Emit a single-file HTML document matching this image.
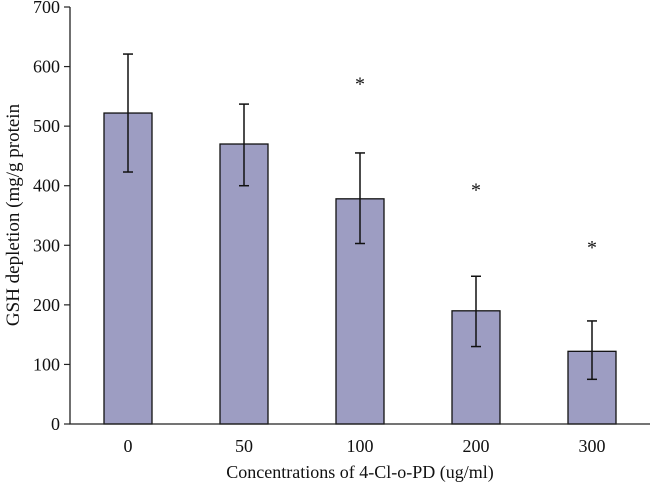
<!DOCTYPE html>
<html><head><meta charset="utf-8"><style>body{margin:0;background:#fff}svg text{font-family:"Liberation Serif",serif;fill:#111}</style></head>
<body>
<svg id="c" width="650" height="487"></svg>
<script>
const categories=["0","50","100","200","300"];
const values=[522,470,378,190,122];
const errLow=[423,400,303,130,75];
const errHigh=[621,537,455,248,173];
const stars=[null,null,577,399,302];
const yTicks=[0,100,200,300,400,500,600,700];
const svg=document.getElementById('c');const NS='http://www.w3.org/2000/svg';
const y=v=>424-v*(417/700);const x=i=>128+i*116;
function mk(t,a,p){const e=document.createElementNS(NS,t);for(const k in a)e.setAttribute(k,a[k]);(p||svg).appendChild(e);return e;}
yTicks.forEach(t=>{const l=mk('line',{x1:64,x2:70,y1:y(t),y2:y(t),stroke:'#222','stroke-width':1.2});

const tx=mk('text',{x:60,y:y(t)+6,'text-anchor':'end','font-size':18});tx.textContent=t;
});
categories.forEach((c,i)=>{
const r=mk('rect',{x:x(i)-24,y:y(values[i]),width:48,height:y(0)-y(values[i]),fill:'#9d9dc2',stroke:'#111','stroke-width':1.3});

const g=mk('g',{stroke:'#111','stroke-width':1.5});

mk('line',{x1:x(i),x2:x(i),y1:y(errLow[i]),y2:y(errHigh[i])},g);
mk('line',{x1:x(i)-5,x2:x(i)+5,y1:y(errLow[i]),y2:y(errLow[i])},g);
mk('line',{x1:x(i)-5,x2:x(i)+5,y1:y(errHigh[i]),y2:y(errHigh[i])},g);
const t=mk('text',{x:x(i),y:452,'text-anchor':'middle','font-size':18});t.textContent=c;

if(stars[i]!=null){const s=mk('text',{x:x(i),y:y(stars[i])+10,'text-anchor':'middle','font-size':20});s.textContent='*';
}
});
const ax=mk('path',{d:'M70 7 V424 H650',fill:'none',stroke:'#222','stroke-width':1.3});

const xt=mk('text',{x:360,y:478,'text-anchor':'middle','font-size':18});xt.textContent='Concentrations of 4-Cl-o-PD (ug/ml)';

const yt=mk('text',{x:0,y:0,'text-anchor':'middle','font-size':19,transform:'translate(19,215) rotate(-90)'});yt.textContent='GSH depletion (mg/g protein';

</script>
</body></html>
